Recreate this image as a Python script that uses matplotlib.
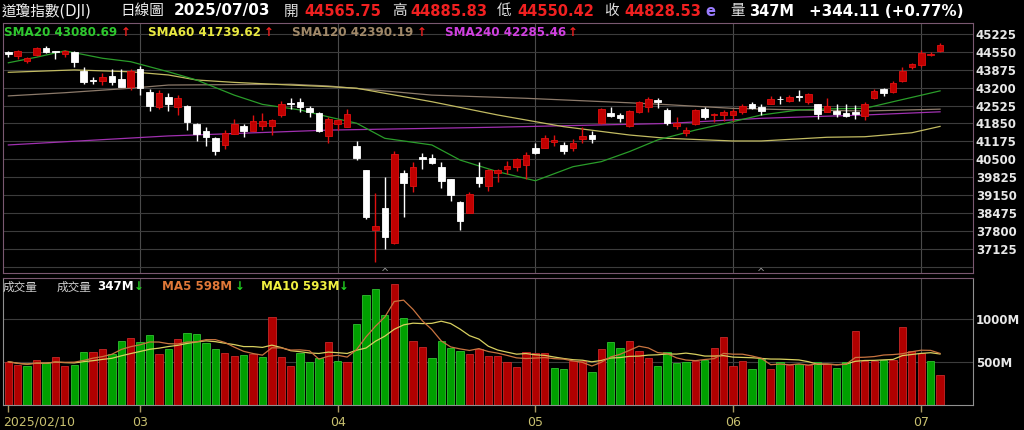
import numpy as np
import pandas as pd
import matplotlib
matplotlib.use('Agg')
import matplotlib.pyplot as plt
from matplotlib.transforms import blended_transform_factory

plt.rcParams['font.family'] = ['DejaVu Sans', 'Noto Sans CJK TC']

# 日K資料 (2025/02/10 ~ 2025/07/03)
opens = [44560, 44400, 44220, 44430, 44690, 44580, 44460, 44560, 43840, 43490,
         43465, 43640, 43520, 43220, 43890, 43050, 42490, 42840, 42460, 42510,
         41830, 41580, 41290, 41040, 41460, 41760, 41580, 41760, 41760, 42170,
         42610, 42670, 42420, 42260, 41380, 41830, 41730, 41000, 40080, 37830,
         38670, 37340, 40000, 39480, 40600, 40530, 40200, 39740, 38900, 38490,
         39840, 39480, 39980, 40145, 40220, 40280, 40940, 40935, 41150, 41040,
         40940, 41250, 41420, 41860, 42260, 42170, 41760, 42300, 42460, 42720,
         42360, 41760, 41480, 41830, 42380, 42170, 42170, 42170, 42300, 42590,
         42480, 42590, 42790, 42710, 42900, 42670, 42580, 42300, 42330, 42250,
         42300, 42130, 42800, 43140, 43050, 43470, 43990, 44060, 44440, 44565.75]
highs = [44600, 44620, 44370, 44720, 44760, 44600, 44620, 44580, 43970, 43620,
         43765, 43900, 43900, 43890, 44020, 43140, 43100, 43000, 42920, 42550,
         41860, 41700, 41350, 41600, 42000, 41830, 42170, 42230, 42010, 42700,
         42800, 42820, 42520, 42270, 42080, 42020, 42380, 41180, 40090, 39210,
         39840, 40800, 40080, 40410, 40750, 40700, 40410, 39760, 38920, 39260,
         40380, 40150, 40150, 40420, 40560, 40790, 41100, 41430, 41400, 41170,
         41260, 41730, 41550, 42450, 42480, 42260, 42360, 42690, 42850, 42800,
         42440, 42100, 41700, 42400, 42470, 42250, 42340, 42380, 42570, 42650,
         42600, 42880, 42880, 42920, 43110, 42990, 42600, 42800, 42600, 42600,
         42560, 42670, 43140, 43200, 43440, 43970, 44130, 44640, 44560, 44885.83]
lows = [44350, 44300, 44150, 44380, 44500, 44300, 44340, 43970, 43330, 43330,
        43300, 43300, 43220, 43120, 42920, 42330, 42400, 42330, 42170, 41600,
        41200, 40990, 40660, 40900, 41450, 41330, 41570, 41600, 41420, 42100,
        42400, 42280, 42100, 41530, 41130, 41600, 41700, 40480, 38250, 36611,
        37100, 37300, 38320, 39280, 40150, 40330, 39400, 38940, 37830, 38480,
        39470, 39320, 39650, 39940, 40040, 39750, 40700, 40930, 41000, 40700,
        40830, 41130, 41130, 41840, 42100, 41900, 41700, 42230, 42300, 42450,
        41790, 41650, 41380, 41780, 42000, 41920, 41950, 41950, 42200, 42380,
        42160, 42580, 42580, 42650, 42700, 42600, 42000, 42280, 42100, 42080,
        42030, 41980, 42780, 42900, 43000, 43430, 43890, 43980, 44380, 44550.42]
closes = [44470, 44593, 44310, 44700, 44540, 44556, 44600, 44170, 43420, 43460,
          43620, 43430, 43240, 43840, 43190, 42520, 43010, 42570, 42800, 41915,
          41440, 41350, 40813, 41480, 41840, 41580, 41960, 41950, 41985, 42583,
          42587, 42455, 42300, 41583, 42000, 41990, 42225, 40545, 38315, 37965,
          37550, 40700, 39594, 40213, 40525, 40369, 39669, 39142, 38170, 39187,
          39606, 40090, 40113, 40227, 40527, 40669, 40753, 41317, 41220, 40829,
          41114, 41368, 41249, 42410, 42140, 42051, 42323, 42655, 42792, 42677,
          41860, 41859, 41603, 42344, 42099, 42216, 42270, 42305, 42520, 42428,
          42320, 42763, 42762, 42867, 42866, 42968, 42198, 42515, 42216, 42140,
          42207, 42582, 43089, 42982, 43387, 43819, 44095, 44495, 44484, 44828.53]

# 成交量 (百萬股) 與漲跌方向 (R=漲, G=跌)
volumes = [504, 465, 457, 520, 485, 562, 457, 465, 620, 620,
           651, 593, 744, 783, 729, 814, 589, 651, 764, 841,
           826, 717, 651, 601, 570, 581, 589, 558, 1027, 562,
           457, 601, 504, 543, 729, 512, 497, 938, 1279, 1349,
           1047, 1404, 1016, 744, 678, 543, 744, 667, 628, 589,
           651, 573, 573, 497, 446, 612, 601, 601, 434, 419,
           512, 512, 388, 651, 729, 667, 744, 628, 550, 457,
           612, 492, 504, 512, 523, 667, 795, 457, 512, 419,
           535, 419, 497, 465, 473, 465, 497, 473, 434, 497,
           861, 512, 512, 523, 523, 911, 628, 601, 512, 347]
vol_dir = ("RRGRGRRGGR" "RGGRGGRGRG" "GGGRRGRGRR" "RGGGRGRGGG"
           "GRGRRGGGGR" "RRRRRRRRGG" "RRGRGGRRRG" "GGGRGRRRRG"
           "GRGRGRGRGG" "RRRGRRRRGR")

# 均線 (取樣點)
sma20_x = [0, 3, 6, 10, 13, 17, 20, 24, 27, 31, 34, 37, 40, 45, 48, 52, 56,
           60, 63, 66, 69, 73, 77, 80, 84, 87, 91, 94, 99]
sma20_y = [44140, 44350, 44590, 44310, 44180, 43800, 43490, 42920, 42570,
           42360, 42100, 41860, 41290, 41040, 40470, 40030, 39690, 40220,
           40410, 40790, 41230, 41600, 41920, 42170, 42360, 42400, 42420,
           42670, 43080]
sma60_x = [0, 7, 13, 17, 20, 24, 30, 34, 37, 45, 52, 59, 66, 70, 77, 80, 87,
           91, 96, 99]
sma60_y = [43780, 43870, 43800, 43680, 43490, 43400, 43300, 43240, 43180,
           42670, 42170, 41730, 41415, 41290, 41190, 41190, 41330, 41350,
           41500, 41740]
sma120_x = [0, 6, 13, 17, 30, 34, 45, 55, 66, 70, 77, 84, 91, 99]
sma120_y = [42890, 43010, 43180, 43300, 43330, 43265, 42920, 42800, 42630,
            42560, 42420, 42360, 42320, 42390]
sma240_x = [0, 17, 34, 52, 70, 80, 91, 99]
sma240_y = [41040, 41380, 41600, 41710, 41850, 42045, 42170, 42290]

month_idx = [0, 14, 35, 56, 77, 97]
month_labels = ['2025/02/10', '03', '04', '05', '06', '07']
price_ticks = [45225, 44550, 43875, 43200, 42525, 41850, 41175, 40500,
               39825, 39150, 38475, 37800, 37125]
vol_ticks = [500, 1000]

W, H = 1024, 430
fig = plt.figure(figsize=(W / 100, H / 100), dpi=100, facecolor='black')

ax = fig.add_axes([2.7 / W, 1 - 272.7 / H, (973 - 2.7) / W, (272.7 - 23) / H])
axv = fig.add_axes([2.7 / W, 1 - 405 / H, (973 - 2.7) / W, (405 - 277.7) / H])

n = len(closes)
x = np.arange(n)
o = np.array(opens)
c = np.array(closes)
up = c > o
XL = (-0.6, 102.5)

for a in (ax, axv):
    a.set_facecolor('black')
    a.set_xlim(*XL)
    for m in month_idx[1:]:
        a.axvline(m, color='#4a4a4a', lw=0.8, zorder=0)

# 價格區
grid_levels = [36450] + price_ticks
for g in grid_levels:
    ax.axhline(g, color='#3c3c3c', lw=0.8, zorder=0)

body_col = np.where(up, '#c00000', '#ffffff')
edge_col = np.where(up, '#e01010', '#ffffff')
ax.vlines(x, lows, highs, colors=edge_col, lw=1, zorder=3)
bottoms = np.minimum(o, c)
heights = np.maximum(np.abs(c - o), 28)
ax.bar(x, heights, bottom=bottoms, width=0.7, color=body_col,
       edgecolor=edge_col, lw=0.6, zorder=4)

ax.plot(sma240_x, sma240_y, color='#a030b0', lw=0.9, zorder=2)
ax.plot(sma120_x, sma120_y, color='#8c7a6a', lw=0.9, zorder=2)
ax.plot(sma60_x, sma60_y, color='#c2bb62', lw=0.9, zorder=2)
ax.plot(sma20_x, sma20_y, color='#2a9d2a', lw=0.9, zorder=2)

ax.set_ylim(36221, 45640)
ax.yaxis.tick_right()
ax.set_yticks(price_ticks)
ax.set_yticklabels([str(t) for t in price_ticks])
ax.tick_params(axis='y', length=0, pad=2, labelsize=8.5, labelcolor='#e8e8e8')
for t in ax.get_yticklabels():
    t.set_fontweight('bold')
ax.set_xticks([])
for s in ax.spines.values():
    s.set_color('#7a5870')

tr = blended_transform_factory(ax.transData, ax.transAxes)
for mi in (40, 80):
    ax.text(mi, 0.0, '^', transform=tr, color='#9a9a9a', fontsize=7,
            ha='center', va='center', clip_on=False)

# 成交量區
vcol = ['#b00000' if d == 'R' else '#00a000' for d in vol_dir]
vedge = ['#c82828' if d == 'R' else '#30c030' for d in vol_dir]
axv.bar(x, volumes, width=0.78, color=vcol, edgecolor=vedge, lw=0.6, zorder=2)
vs = pd.Series(volumes, dtype=float)
axv.plot(x, vs.rolling(10, min_periods=1).mean(), color='#d8d060', lw=0.9, zorder=3)
axv.plot(x, vs.rolling(5, min_periods=1).mean(), color='#c87440', lw=0.9, zorder=3)
for g in vol_ticks:
    axv.axhline(g, color='#3c3c3c', lw=0.8, zorder=0)
axv.set_ylim(0, 1480)
axv.yaxis.tick_right()
axv.set_yticks(vol_ticks)
axv.set_yticklabels([f'{t}M' for t in vol_ticks])
axv.tick_params(axis='y', length=0, pad=2, labelsize=8.5, labelcolor='#e8e8e8')
for t in axv.get_yticklabels():
    t.set_fontweight('bold')
axv.set_xticks(month_idx)
axv.set_xticklabels([])
axv.tick_params(axis='x', length=5, width=1, color='#a89860', direction='out')
for s in axv.spines.values():
    s.set_color('#909090')
axv.spines['top'].set_color('#7a5870')

xpix = lambda i: 2.7 + (i - XL[0]) / (XL[1] - XL[0]) * (973 - 2.7)
for i, lab in zip(month_idx, month_labels):
    if i == 0:
        fig.text(3 / W, 1 - 422 / H, lab, color='#c8c070', fontsize=9,
                 ha='left', va='center')
    else:
        fig.text(xpix(i) / W, 1 - 422 / H, lab, color='#c8c070', fontsize=9,
                 ha='center', va='center')


def put(xp, yp, s, color, size, weight='normal'):
    fig.text(xp / W, 1 - yp / H, s, color=color, fontsize=size,
             fontweight=weight, ha='left', va='center')


# 標題列
red = '#f02020'
put(2, 11, '道瓊指數(DJI)', '#f0f0f0', 10.5)
put(120, 11, '日線圖', '#f0f0f0', 10.5)
put(174, 11, '2025/07/03', '#ffffff', 11, 'bold')
put(284, 11, '開', '#e0e0e0', 10.5)
put(304, 11, '44565.75', red, 10.5, 'bold')
put(392, 11, '高', '#e0e0e0', 10.5)
put(410, 11, '44885.83', red, 10.5, 'bold')
put(497, 11, '低', '#e0e0e0', 10.5)
put(517, 11, '44550.42', red, 10.5, 'bold')
put(604, 11, '收', '#e0e0e0', 10.5)
put(624, 11, '44828.53', red, 10.5, 'bold')
put(705, 11, 'e', '#9a7cff', 10.5, 'bold')
put(730, 11, '量', '#e0e0e0', 10.5)
put(749, 11, '347M', '#ffffff', 10.5, 'bold')
put(809, 11, '+344.11 (+0.77%)', '#ffffff', 10.8, 'bold')

# 均線圖例
put(4, 32.5, 'SMA20 43080.69', '#2ec82e', 8.6, 'bold')
put(121, 32.5, '↑', red, 8.6, 'bold')
put(148, 32.5, 'SMA60 41739.62', '#e8e840', 8.6, 'bold')
put(264, 32.5, '↑', red, 8.6, 'bold')
put(292, 32.5, 'SMA120 42390.19', '#a08868', 8.6, 'bold')
put(417, 32.5, '↑', red, 8.6, 'bold')
put(445, 32.5, 'SMA240 42285.46', '#d040e0', 8.6, 'bold')
put(568, 32.5, '↑', red, 8.6, 'bold')

# 成交量圖例
green = '#20d020'
put(3, 287, '成交量', '#d0d0d0', 8.4)
put(57, 287, '成交量', '#d0d0d0', 8.4)
put(97, 287, '347M', '#ffffff', 8.6, 'bold')
put(134, 287, '↓', green, 8.6, 'bold')
put(162, 287, 'MA5 598M', '#e07838', 8.6, 'bold')
put(235, 287, '↓', green, 8.6, 'bold')
put(261, 287, 'MA10 593M', '#f0f040', 8.6, 'bold')
put(339, 287, '↓', green, 8.6, 'bold')

fig.savefig('out.png', dpi=100, facecolor='black')
